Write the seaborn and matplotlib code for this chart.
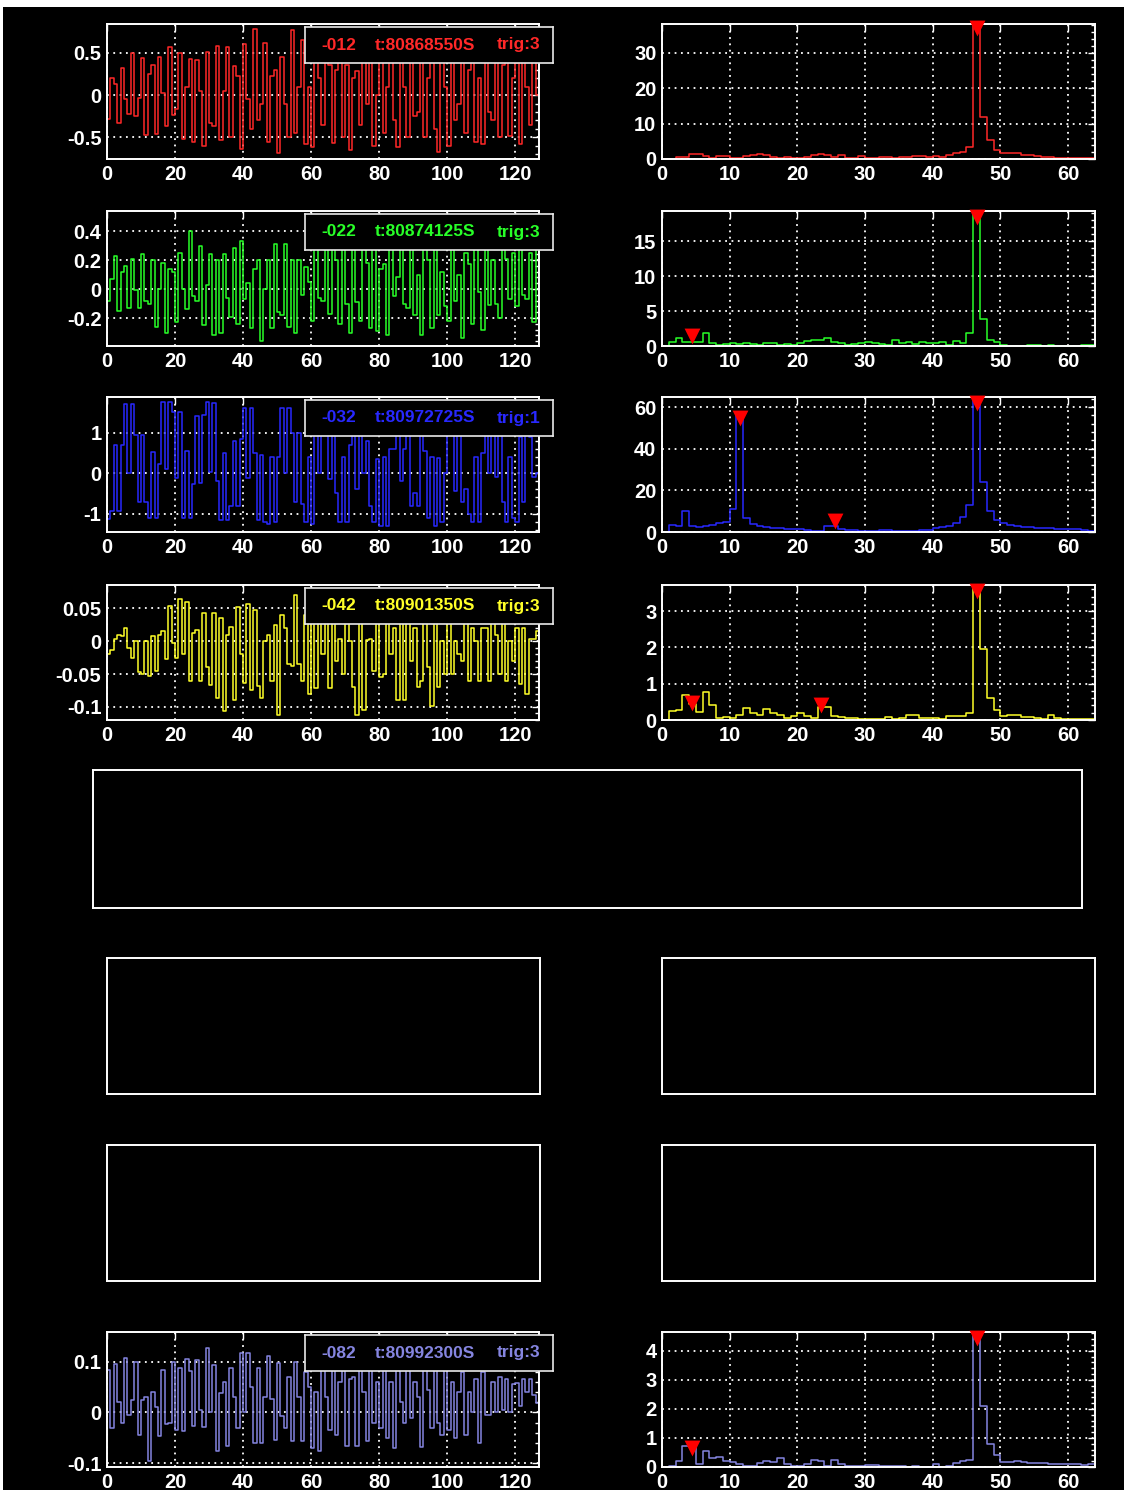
import numpy as np
import pandas as pd
import matplotlib
matplotlib.use("Agg")
import matplotlib.pyplot as plt
from matplotlib.ticker import MultipleLocator, AutoMinorLocator, FuncFormatter
from matplotlib.patches import Rectangle
import seaborn as sns

# ---- channel info ----
channels = ["-012", "-022", "-032", "-042", "-082"]
times = ["t:80868550S", "t:80874125S", "t:80972725S", "t:80901350S", "t:80992300S"]
trigs = ["trig:3", "trig:3", "trig:1", "trig:3", "trig:3"]
colors = ["#ff2828", "#28ff28", "#2828ff", "#ffff28", "#8585e0"]

# ---- time series (128 samples each) ----
wave_012 = [
    -0.28, 0.20, 0.13, -0.33, 0.32, -0.05, -0.22, 0.50, -0.25, -0.03, 0.44, -0.47, 0.25, 0.35, -0.46, 0.45,
    0.03, -0.37, 0.57, -0.23, -0.16, 0.50, -0.52, 0.10, 0.43, -0.55, 0.42, 0.05, -0.60, 0.51, -0.33, -0.36,
    0.58, -0.53, 0.05, 0.57, -0.50, 0.34, 0.22, -0.64, 0.60, -0.05, -0.40, 0.78, -0.30, -0.10, 0.62, -0.55,
    0.22, 0.30, -0.69, 0.45, -0.10, -0.50, 0.77, -0.45, 0.10, 0.65, -0.58, 0.10, -0.62, 0.60, 0.20, -0.35,
    0.60, 0.35, -0.57, 0.30, 0.50, -0.50, 0.35, -0.65, 0.20, 0.28, -0.35, 0.60, -0.10, 0.40, -0.60, 0.00,
    0.55, -0.45, 0.10, 0.50, -0.30, -0.62, 0.60, 0.10, -0.50, 0.55, -0.25, -0.20, 0.60, -0.50, 0.20, 0.45,
    -0.40, -0.67, 0.55, 0.10, -0.60, 0.60, -0.30, -0.10, 0.62, -0.45, 0.30, 0.50, -0.55, 0.20, -0.58, 0.60,
    -0.20, -0.30, 0.60, -0.50, 0.35, 0.40, -0.48, 0.20, 0.38, -0.58, 0.50, 0.10, -0.35, 0.55, 0.00, 0.20,
]
wave_022 = [
    -0.08, 0.07, 0.23, -0.15, 0.12, 0.16, -0.13, 0.21, -0.01, -0.13, 0.24, -0.08, -0.10, 0.20, -0.26, 0.00,
    0.18, -0.30, 0.14, 0.12, -0.23, 0.25, 0.00, -0.14, 0.40, -0.05, -0.08, 0.30, -0.25, 0.03, 0.24, -0.32,
    0.20, -0.30, 0.24, -0.06, -0.19, 0.28, -0.24, 0.33, -0.07, 0.04, -0.27, 0.14, 0.20, -0.36, 0.00, 0.20,
    -0.27, 0.31, -0.16, -0.18, 0.31, -0.26, 0.20, -0.30, 0.20, -0.04, 0.15, 0.05, -0.22, 0.30, -0.06, -0.08,
    0.35, -0.17, 0.30, 0.20, -0.24, 0.30, -0.10, -0.30, 0.35, -0.09, -0.22, 0.30, 0.18, -0.27, 0.30, -0.29,
    0.14, 0.17, -0.32, 0.30, -0.05, 0.08, 0.33, -0.10, -0.13, 0.28, -0.18, 0.10, -0.32, 0.30, 0.20, -0.27,
    0.30, -0.18, 0.12, -0.12, -0.22, 0.30, -0.08, 0.10, -0.34, 0.25, 0.17, -0.24, 0.30, -0.02, -0.28, 0.35,
    -0.11, 0.20, -0.10, -0.20, 0.30, 0.21, -0.07, 0.25, -0.12, 0.30, -0.04, -0.07, 0.25, -0.23, 0.30, 0.00,
]
wave_032 = [
    -1.12, -0.93, 0.70, -0.93, 0.70, 1.70, 0.00, 1.70, 0.93, -0.70, 0.93, -0.70, -1.10, 0.52, -1.10, 0.22,
    1.75, 0.10, 1.75, 1.50, -0.13, 1.50, -1.10, 0.55, -1.10, -0.27, 1.40, -0.25, 1.42, 1.75, 0.04, 1.73,
    -0.20, -1.15, 0.50, -1.15, -0.80, 0.80, -0.82, 0.85, 1.60, -0.12, 1.60, 0.50, -1.15, 0.45, -1.20, -1.25,
    0.40, -1.20, 0.40, 1.60, 0.00, 1.60, 1.00, -0.70, 1.00, -0.75, -1.20, 0.40, -1.25, 1.20, 0.00, 1.60,
    1.00, -0.15, 1.20, -0.50, -1.20, 0.40, -1.20, 0.70, 1.50, -0.40, 1.30, 0.00, 0.80, -0.80, -1.20, 0.35,
    -1.30, 0.40, -1.30, 0.60, 0.60, 1.20, -0.20, 0.60, 1.30, -0.80, -0.50, -0.80, 1.20, 0.55, -1.10, 0.40,
    -1.30, 0.37, -1.20, 0.00, 1.60, 1.10, -0.45, 1.10, -0.70, -0.40, -1.00, -1.20, 0.40, -1.20, 0.50, 1.20,
    0.00, 1.40, -0.10, 1.00, -0.70, -1.20, 0.40, -1.10, -1.20, 0.90, -0.70, 1.50, 0.90, -0.10, 0.00, 0.00,
]
wave_042 = [
    -0.020, -0.013, 0.003, 0.010, 0.008, 0.020, -0.010, -0.025, 0.000, -0.047, -0.050, 0.000, -0.053, 0.008, -0.045, 0.010,
    0.015, -0.027, 0.053, -0.003, -0.025, 0.064, -0.020, 0.060, -0.060, 0.013, 0.017, -0.060, 0.043, -0.040, -0.067, 0.043,
    -0.087, 0.035, -0.107, 0.010, 0.022, -0.090, 0.052, -0.020, -0.063, 0.057, -0.075, 0.048, -0.068, -0.087, 0.000, 0.010,
    -0.060, 0.025, -0.112, 0.040, 0.020, -0.035, -0.037, 0.070, -0.035, -0.060, 0.040, -0.080, 0.040, -0.072, 0.050, -0.020,
    0.045, -0.072, 0.060, -0.030, 0.003, -0.050, 0.040, 0.000, -0.070, -0.112, 0.050, -0.105, 0.002, 0.003, -0.045, 0.040,
    -0.055, -0.050, 0.050, -0.020, 0.020, -0.090, 0.040, -0.090, 0.040, -0.030, 0.020, -0.070, -0.060, 0.030, -0.040, -0.098,
    0.040, -0.070, 0.000, -0.050, 0.050, -0.050, 0.000, -0.020, -0.030, 0.050, -0.060, 0.020, 0.000, -0.060, 0.020, 0.020,
    -0.060, 0.050, 0.010, -0.050, 0.030, -0.060, 0.000, -0.030, 0.020, -0.065, 0.020, -0.080, 0.003, 0.003, 0.015, 0.000,
]
wave_082 = [
    0.083, -0.030, 0.095, 0.020, -0.020, 0.107, -0.005, 0.025, 0.100, -0.045, 0.025, 0.030, -0.095, 0.040, 0.010, -0.047,
    0.083, -0.023, -0.020, 0.100, -0.035, 0.088, -0.037, 0.105, 0.082, -0.027, 0.103, 0.005, -0.028, 0.127, 0.000, 0.093,
    -0.075, 0.038, 0.060, -0.065, 0.087, 0.030, -0.030, 0.117, 0.000, 0.117, 0.050, -0.060, 0.087, -0.060, 0.030, 0.110,
    0.027, -0.054, 0.097, -0.007, -0.030, 0.070, -0.055, 0.100, 0.030, -0.055, 0.080, 0.050, -0.070, 0.040, -0.075, 0.090,
    0.030, -0.035, 0.090, -0.045, 0.060, 0.100, -0.065, 0.065, 0.070, -0.065, 0.110, 0.040, -0.055, 0.100, -0.020, 0.060,
    -0.030, 0.130, -0.050, 0.060, -0.070, 0.100, 0.020, -0.020, 0.110, -0.010, 0.060, 0.030, -0.068, 0.090, 0.045, -0.030,
    0.100, -0.020, -0.045, 0.090, -0.035, 0.060, -0.050, 0.040, 0.080, -0.045, 0.040, 0.000, 0.065, -0.060, 0.080, -0.005,
    -0.005, 0.060, 0.000, 0.070, 0.005, 0.065, 0.000, 0.055, 0.057, 0.012, 0.065, 0.040, 0.065, 0.035, 0.018, 0.000,
]

# ---- spectra (64 bins each) ----
spec_012 = [
    0.1, 0.1, 0.5, 0.5, 1.4, 1.5, 0.8, 0.3, 0.8, 0.8, 0.3, 0.4, 0.9, 1.2, 1.3, 1.2,
    0.6, 0.3, 0.5, 0.3, 0.3, 0.5, 1.0, 1.3, 1.1, 0.6, 1.0, 0.2, 0.4, 0.8, 0.3, 0.2,
    0.6, 0.5, 0.4, 0.6, 0.5, 0.8, 0.8, 0.7, 0.8, 0.5, 1.2, 1.6, 2.0, 3.3, 38.2, 12.0,
    5.3, 2.5, 1.7, 1.7, 1.8, 1.2, 1.2, 0.8, 0.6, 0.6, 0.4, 0.4, 0.3, 0.4, 0.4, 0.3,
]
spec_022 = [
    0.0, 0.6, 1.2, 0.6, 0.6, 0.6, 1.8, 0.5, 0.1, 0.3, 0.4, 0.3, 0.4, 0.35, 0.1, 0.5,
    0.4, 0.2, 0.3, 0.2, 0.5, 0.7, 0.8, 0.8, 1.2, 0.6, 0.4, 0.2, 0.3, 0.5, 0.6, 0.4,
    0.3, 0.2, 0.8, 0.4, 0.6, 0.3, 0.6, 0.4, 0.4, 0.6, 0.2, 0.7, 0.5, 1.8, 19.3, 3.8,
    0.9, 0.6, 0.2, 0.05, 0.05, 0.05, 0.1, 0.1, 0.05, 0.1, 0.05, 0.05, 0.05, 0.05, 0.1, 0.1,
]
spec_032 = [
    0.0, 3.5, 3.0, 10.0, 3.0, 2.5, 2.8, 3.2, 4.2, 5.0, 11.0, 56.0, 6.5, 4.0, 3.0, 2.5,
    2.0, 1.8, 1.5, 1.3, 1.3, 1.0, 0.5, 0.3, 2.8, 2.8, 1.5, 1.0, 0.8, 0.6, 0.6, 0.6,
    1.2, 0.8, 0.3, 0.3, 0.4, 0.6, 0.8, 1.2, 1.8, 2.2, 3.0, 4.5, 7.0, 13.0, 64.8, 24.0,
    10.0, 6.0, 4.5, 3.5, 3.0, 2.5, 2.2, 1.8, 2.0, 1.8, 1.6, 1.4, 1.4, 1.6, 0.8, 0.6,
]
spec_042 = [
    0.0, 0.25, 0.28, 0.68, 0.45, 0.22, 0.78, 0.4, 0.05, 0.08, 0.05, 0.15, 0.32, 0.2, 0.15, 0.3,
    0.2, 0.15, 0.05, 0.1, 0.18, 0.12, 0.05, 0.35, 0.35, 0.1, 0.08, 0.05, 0.06, 0.03, 0.03, 0.02,
    0.02, 0.08, 0.03, 0.05, 0.15, 0.13, 0.05, 0.05, 0.05, 0.03, 0.1, 0.1, 0.12, 0.2, 3.72, 1.95,
    0.62, 0.28, 0.1, 0.15, 0.14, 0.07, 0.07, 0.05, 0.02, 0.13, 0.05, 0.03, 0.04, 0.04, 0.04, 0.03,
]
spec_082 = [
    0.0, 0.02, 0.2, 0.72, 0.7, 0.1, 0.55, 0.3, 0.35, 0.2, 0.18, 0.12, 0.05, 0.05, 0.15, 0.22,
    0.18, 0.3, 0.12, 0.02, 0.05, 0.12, 0.25, 0.22, 0.05, 0.25, 0.1, 0.05, 0.05, 0.05, 0.08, 0.07,
    0.03, 0.03, 0.02, 0.04, 0.01, 0.03, 0.01, 0.01, 0.12, 0.0, 0.05, 0.15, 0.2, 0.25, 4.65, 2.1,
    0.8, 0.4, 0.18, 0.18, 0.22, 0.18, 0.15, 0.15, 0.15, 0.12, 0.12, 0.1, 0.1, 0.12, 0.08, 0.1,
]

# ---- detected peaks (frequency, level) ----
peak_x = [[46.5], [4.5, 46.5], [11.5, 25.5, 46.5], [4.5, 23.5, 46.5], [4.5, 46.5]]
peak_y = [[37.0], [1.5, 18.5], [54.5, 5.2, 62.0], [0.46, 0.41, 3.56], [0.66, 4.44]]

waves = [wave_012, wave_022, wave_032, wave_042, wave_082]
specs = [spec_012, spec_022, spec_032, spec_042, spec_082]
wave_ylim = [(-0.756, 0.84), (-0.393, 0.538), (-1.45, 1.875), (-0.12, 0.0857), (-0.107, 0.158)]
wave_step = [0.5, 0.2, 1.0, 0.05, 0.1]
spec_step = [10, 5, 20, 1, 1]
data_rows = [0, 1, 2, 3, 7]

sns.set_theme(style="white")
plt.rcParams["font.family"] = ["Liberation Sans", "DejaVu Sans"]
plt.rcParams["font.weight"] = "bold"
plt.rcParams["axes.unicode_minus"] = False

W, H = 1127, 1495
fig = plt.figure(figsize=(W / 100, H / 100), dpi=100, facecolor="white")
fig.patches.append(Rectangle((3 / W, 5 / H), 1121 / W, 1483 / H, transform=fig.transFigure,
                             facecolor="black", edgecolor="none", zorder=-10))

row_top = [24, 211, 397, 585, 770, 958, 1145, 1332]
row_h = 135
left_x, right_x, col_w = 107, 662, 432


def px_axes(x0, top, w, h, **kw):
    return fig.add_axes([x0 / W, 1 - (top + h) / H, w / W, h / H], **kw)


def style_axes(ax):
    ax.set_facecolor("black")
    for s in ax.spines.values():
        s.set_color("white")
        s.set_linewidth(1.4)


def style_ticks(ax, ystep, xstep):
    ax.xaxis.set_major_locator(MultipleLocator(xstep))
    ax.yaxis.set_major_locator(MultipleLocator(ystep))
    ax.yaxis.set_minor_locator(AutoMinorLocator(5))
    fmt = FuncFormatter(lambda v, p: f"{round(v, 6):g}")
    ax.xaxis.set_major_formatter(fmt)
    ax.yaxis.set_major_formatter(fmt)
    ax.tick_params(which="both", direction="in", colors="white", top=True, right=True,
                   labelsize=14.5, width=1.0)
    ax.tick_params(which="major", length=5, pad=4)
    ax.tick_params(which="minor", length=3)
    ax.grid(True, which="major", color="white", linestyle=(0, (1, 2.5)), linewidth=1.3)
    ax.set_xlabel("")
    ax.set_ylabel("")


for i, r in enumerate(data_rows):
    top = row_top[r]
    # time series
    ax = px_axes(left_x, top, col_w, row_h)
    style_axes(ax)
    df = pd.DataFrame({"n": np.arange(len(waves[i])), "v": waves[i]})
    sns.lineplot(data=df, x="n", y="v", ax=ax, color=colors[i], linewidth=1.1,
                 drawstyle="steps-post", estimator=None)
    ax.set_xlim(0, 127)
    ax.set_ylim(*wave_ylim[i])
    style_ticks(ax, wave_step[i], 20)

    # info box
    bx = px_axes(left_x + col_w + 14 - 248, top + 3, 248, 36)
    bx.set_facecolor("black")
    bx.set_xticks([])
    bx.set_yticks([])
    for s in bx.spines.values():
        s.set_color("#e8e8e8")
        s.set_linewidth(1.2)
    for xf, txt in zip([0.135, 0.485, 0.86], [channels[i], times[i], trigs[i]]):
        bx.text(xf, 0.5, txt, ha="center", va="center", color=colors[i],
                fontsize=12.5, fontweight="bold", transform=bx.transAxes)

    # spectrum
    ax2 = px_axes(right_x, top, col_w + 1, row_h)
    style_axes(ax2)
    sp = specs[i]
    sdf = pd.DataFrame({"f": np.arange(len(sp) + 1), "p": sp + [sp[-1]]})
    sns.lineplot(data=sdf, x="f", y="p", ax=ax2, color=colors[i], linewidth=1.1,
                 drawstyle="steps-post", estimator=None)
    sns.scatterplot(x=peak_x[i], y=peak_y[i], ax=ax2, marker="v", color="#ff0000",
                    s=130, linewidth=0, zorder=5, clip_on=False)
    ax2.set_xlim(0, 64)
    ax2.set_ylim(0, max(sp))
    style_ticks(ax2, spec_step[i], 10)

# empty panels
wide = px_axes(93, row_top[4], 989, 138)
style_axes(wide)
wide.set_xticks([])
wide.set_yticks([])
for r in (5, 6):
    for x0 in (left_x, right_x):
        e = px_axes(x0, row_top[r], col_w + 1, 136)
        style_axes(e)
        e.set_xticks([])
        e.set_yticks([])

fig.savefig("out.png", dpi=100, facecolor=fig.get_facecolor())
